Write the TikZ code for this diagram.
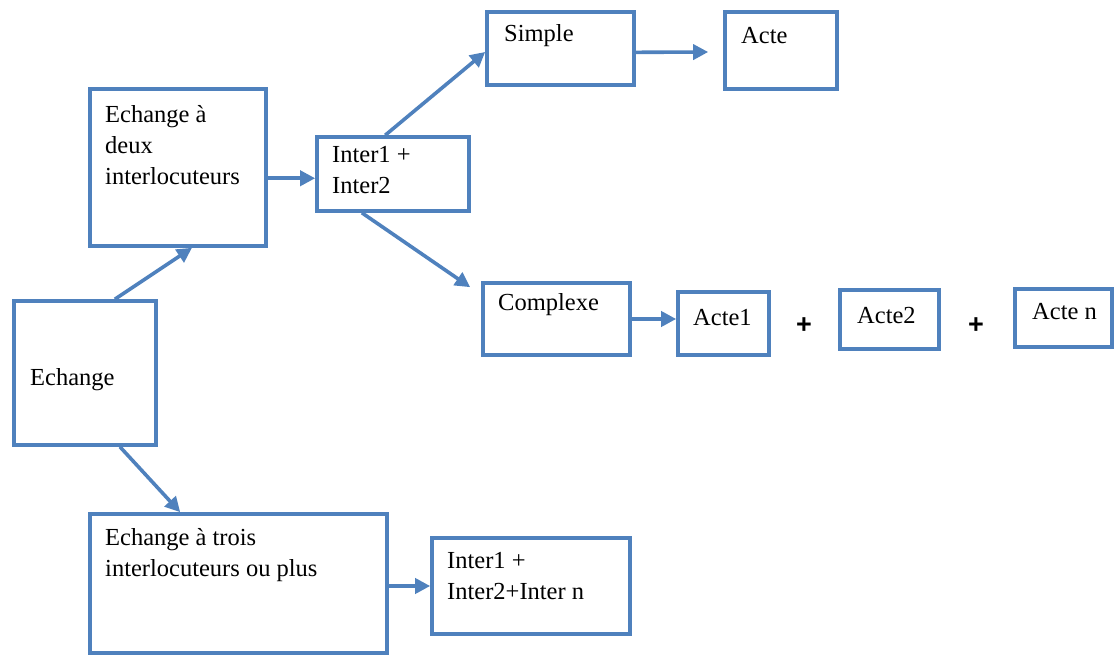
\documentclass[tikz,border=0pt]{standalone}
\usepackage{fontspec}
\setmainfont{Liberation Serif}
\newfontfamily\lserif{Liberation Serif}
\newfontfamily\plusfont{Liberation Sans}
\usetikzlibrary{arrows.meta,calc}
\definecolor{boxblue}{RGB}{79,129,189}
\begin{document}
\begin{tikzpicture}[x=1pt,y=-1pt,
  box/.style={draw=boxblue, line width=3.6pt, rectangle, inner sep=0pt},
  lbl/.style={inner sep=0pt, font=\lserif\fontsize{24.5}{31}\selectfont, align=left},
  conn/.style={draw=boxblue, line width=3.6pt, -{Triangle[length=15pt,width=15pt]}},
  plusmark/.style={inner sep=0pt, font=\plusfont\bfseries\fontsize{27}{30}\selectfont}]
\useasboundingbox (0,0) rectangle (1116,655);

% boxes
\node[box, minimum width=142pt, minimum height=144pt] (echange) at (85,373) {};
\node[box, minimum width=176pt, minimum height=157pt] (deux) at (178,167.5) {};
\node[box, minimum width=152pt, minimum height=74pt] (inter) at (393,174) {};
\node[box, minimum width=147pt, minimum height=73pt] (simple) at (560.5,48.5) {};
\node[box, minimum width=112pt, minimum height=77pt] (acte) at (781,50.5) {};
\node[box, minimum width=147pt, minimum height=72pt] (complexe) at (556.5,319) {};
\node[box, minimum width=91pt, minimum height=63pt] (acte1) at (723.5,323.5) {};
\node[box, minimum width=99pt, minimum height=59pt] (acte2) at (889.5,319.5) {};
\node[box, minimum width=97pt, minimum height=58pt] (acten) at (1063.5,318) {};
\node[box, minimum width=297pt, minimum height=139pt] (trois) at (238.5,583.5) {};
\node[box, minimum width=198pt, minimum height=96pt] (inter3) at (531,586) {};

% texts
\node[lbl, anchor=base west] (techange) at (30,385) {Echange};
\node[lbl, anchor=north west] (tdeux) at (105,105) {Echange à\\deux\\interlocuteurs};
\node[lbl, anchor=north west] (tinter) at (332,146) {Inter1 +\\Inter2};
\node[lbl, anchor=base west] (tsimple) at (504,42) {Simple};
\node[lbl, anchor=base west] (tacte) at (741,44) {Acte};
\node[lbl, anchor=base west] (tcomplexe) at (498,310) {Complexe};
\node[lbl, anchor=base west] (tacte1) at (693,325) {Acte1};
\node[lbl, anchor=base west] (tacte2) at (857,323) {Acte2};
\node[lbl, anchor=base west] (tacten) at (1032,319) {Acte n};
\node[lbl, anchor=north west] (ttrois) at (105,528) {Echange à trois\\interlocuteurs ou plus};
\node[lbl, anchor=north west] (tinter3) at (447,552) {Inter1 +\\Inter2+Inter n};

\node[plusmark] (plus1) at (804,326) {+};
\node[plusmark] (plus2) at (976,326) {+};

% helper coordinates
\coordinate (d2) at ($(deux.north east)!0.567!(deux.south east)$);
\coordinate (cxin) at ($(complexe.north west)+(-11,6)$);
\coordinate (s2) at ($(simple.north east)!0.55!(simple.south east)$);
\coordinate (actein) at ($(acte.west)+(-15,1.5)$);

% connectors
\draw[conn] ($(echange.north west)!0.705!(echange.north east)$) -- ($(deux.south west)!0.578!(deux.south east)$);
\draw[conn] ($(echange.south west)!0.74!(echange.south east)$) -- ($(trois.north west)!0.306!(trois.north east)$);
\draw[conn] (d2) -- (d2 -| inter.west);
\draw[conn] ($(inter.north west)!0.45!(inter.north east)$) -- ($(simple.north west)!0.545!(simple.south west)$);
\draw[conn] ($(inter.south west)!0.30!(inter.south east)$) -- (cxin);
\draw[conn] (s2) -- (actein);
\draw[conn] (complexe.east) -- (complexe.east -| acte1.west);
\draw[conn] (inter3.west -| trois.east) -- (inter3.west);
\end{tikzpicture}
\end{document}
